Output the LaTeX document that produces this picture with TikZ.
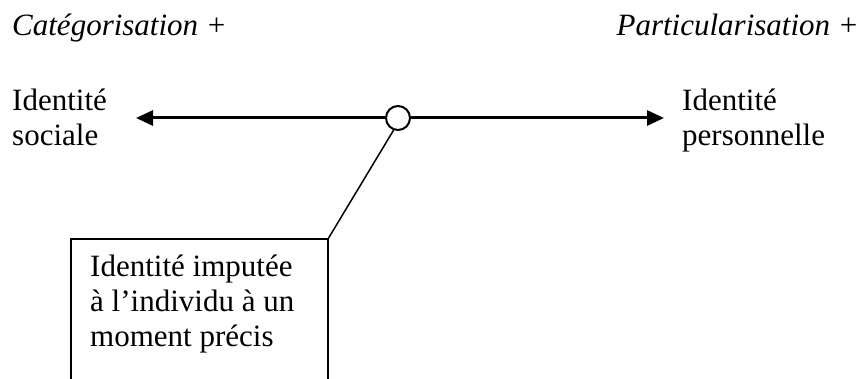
\documentclass[tikz,border=0pt]{standalone}
\usepackage{fontspec}
\setmainfont{Liberation Serif}
\usetikzlibrary{arrows.meta}
\begin{document}
\begin{tikzpicture}[x=1pt,y=-1pt,
  lbl/.style={inner sep=0pt,anchor=base west,align=left,font=\fontsize{31}{35}\selectfont},
  axis/.style={line width=3pt,-{Triangle[length=17pt,width=15pt]}},
  thin/.style={line width=1.5pt}]
\useasboundingbox (0,0) rectangle (860,379);
\clip (0,0) rectangle (860,379);
\node[lbl] (cat) at (12,36) {\itshape Catégorisation +};
\node[lbl,anchor=base east] (part) at (859,36) {\itshape Particularisation +};
\node[lbl] (soc) at (12,146) {Identité\\sociale};
\node[lbl] (pers) at (682,146) {Identité\\personnelle};
\coordinate (L) at (136,118);
\coordinate (R) at (664,118);
\node[circle,draw,line width=2pt,fill=white,minimum size=24pt,inner sep=0pt] (c) at (398,118) {};
\draw[axis] (c.west) -- (L);
\draw[axis] (c.east) -- (R);
\draw[thin] (71,420) |- (328,239) -- (328,420);
\coordinate (corner) at (328,239);
\draw[thin] (c.250) -- (corner);
\node[lbl] (imp) at (90,347) {Identité imputée\\à l’individu à un\\moment précis};
\end{tikzpicture}
\end{document}
